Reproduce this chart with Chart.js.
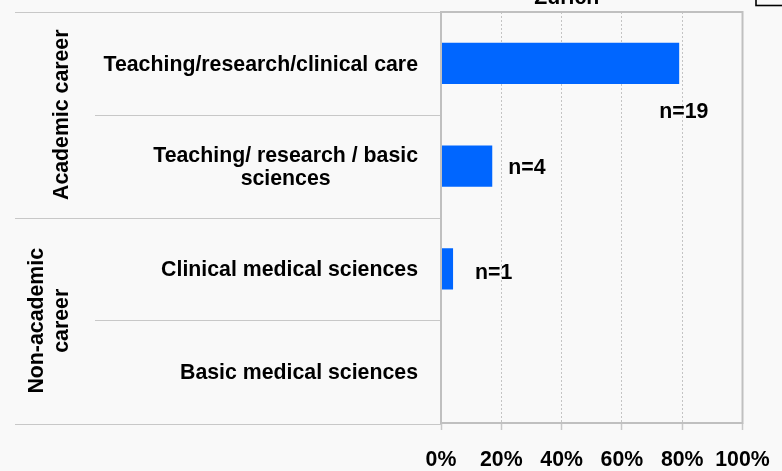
<!DOCTYPE html>
<html>
<head>
<meta charset="utf-8">
<script src="https://cdn.jsdelivr.net/npm/chart.js@4"></script>
<style>
  html, body { margin: 0; padding: 0; background: #f9f9f9; }
  #wrap { width: 782px; height: 471px; position: relative; }
</style>
</head>
<body>
<div id="wrap"><canvas id="myChart"></canvas></div>
<script>
// data
const categories = [
    ['Teaching/research/clinical care'],
    ['Teaching/ research / basic', 'sciences'],
    ['Clinical medical sciences'],
    ['Basic medical sciences']
];
const groups = [['Academic career'], ['Non-academic', 'career']];
const groupStarts = [0, 2];            // first category index of each group
const shares = [79, 17, 4, 0];         // percent of respondents
const counts = [19, 4, 1, 0];          // n per category
const xTicks = [0, 20, 40, 60, 80, 100];
const chartTitle = 'Zurich';

const FONT = '"Liberation Sans", Arial, Helvetica, sans-serif';
const BOLD = 'bold 21.3px ' + FONT;

// where each n= label sits relative to the end / middle of its bar
const labelOffsets = [
    { dx: -20, dy: 55 },
    { dx: 16, dy: 8 },
    { dx: 22, dy: 10 }
];

const decorations = {
    id: 'decorations',
    afterDatasetsDraw(chart) {
        const ctx = chart.ctx;
        const area = chart.chartArea;
        const y = chart.scales.y;
        const n = categories.length;

        // band edges of the category axis
        const edges = [area.top];
        for (let i = 0; i < n - 1; i++) {
            edges.push((y.getPixelForValue(i) + y.getPixelForValue(i + 1)) / 2);
        }
        edges.push(area.bottom + 1);

        ctx.save();

        // divider lines on the left side
        ctx.strokeStyle = '#c8c8c8';
        ctx.lineWidth = 1;
        edges.forEach((e, i) => {
            const full = i === 0 || i === n || groupStarts.includes(i);
            ctx.beginPath();
            ctx.moveTo(full ? 15 : 95, Math.round(e) + 0.5);
            ctx.lineTo(area.left, Math.round(e) + 0.5);
            ctx.stroke();
        });

        // plot frame
        ctx.strokeStyle = '#c0c0c0';
        ctx.lineWidth = 2;
        ctx.strokeRect(area.left, area.top, area.right - area.left, area.bottom - area.top);

        ctx.fillStyle = '#000';
        ctx.font = BOLD;

        // category labels: right-aligned block, lines centred inside it
        const right = area.left - 23;
        const lh = 23.5;
        categories.forEach((lines, i) => {
            const w = Math.max(...lines.map(l => ctx.measureText(l).width));
            const cx = right - w / 2;
            const cy = y.getPixelForValue(i);
            ctx.textAlign = 'center';
            ctx.textBaseline = 'alphabetic';
            lines.forEach((l, k) => {
                const base = cy + 7.5 + (k - (lines.length - 1) / 2) * lh;
                ctx.fillText(l, cx, base);
            });
        });

        // rotated group labels
        groups.forEach((lines, g) => {
            const first = groupStarts[g];
            const last = g + 1 < groupStarts.length ? groupStarts[g + 1] : n;
            const cy = (edges[first] + edges[last]) / 2;
            ctx.save();
            ctx.translate(0, cy);
            ctx.rotate(-Math.PI / 2);
            ctx.textAlign = 'center';
            ctx.textBaseline = 'alphabetic';
            lines.forEach((l, k) => {
                ctx.fillText(l, 0, 68 - (lines.length - 1 - k) * 25);
            });
            ctx.restore();
        });

        // n= labels next to the bars
        const meta = chart.getDatasetMeta(0);
        ctx.textAlign = 'left';
        ctx.textBaseline = 'middle';
        counts.forEach((c, i) => {
            if (!c) return;
            const bar = meta.data[i];
            const off = labelOffsets[i];
            ctx.fillText('n=' + c, bar.x + off.dx, bar.y + off.dy - 6);
        });

        // title, partly cut off at the top
        ctx.textAlign = 'center';
        ctx.textBaseline = 'alphabetic';
        ctx.fillText(chartTitle, area.left + (area.right - area.left) * 0.417, 4);

        // corner of a box peeking in at the top right
        ctx.strokeStyle = '#000';
        ctx.lineWidth = 1.6;
        ctx.strokeRect(756, -20, 60, 25.5);

        ctx.restore();
    }
};

new Chart(document.getElementById('myChart').getContext('2d'), {
    type: 'bar',
    data: {
        labels: categories,
        datasets: [
            {
                data: shares,
                backgroundColor: '#0066ff',
                borderWidth: 0,
                categoryPercentage: 1,
                barPercentage: 0.4
            }
        ]
    },
    options: {
        indexAxis: 'y',
        responsive: true,
        maintainAspectRatio: false,
        animation: false,
        layout: { padding: { top: 12, right: 39.5, left: 0, bottom: 0 } },
        plugins: {
            legend: { display: false },
            tooltip: { enabled: false },
            title: { display: false }
        },
        scales: {
            x: {
                min: 0,
                max: 100,
                afterBuildTicks: s => { s.ticks = xTicks.map(v => ({ value: v })); },
                afterFit: s => { s.height = 48; s.paddingLeft = 0; s.paddingRight = 0; },
                ticks: {
                    callback: v => v + '%',
                    color: '#000',
                    font: { family: FONT, size: 21.3, weight: 'bold' },
                    padding: 17,
                    maxRotation: 0
                },
                grid: {
                    color: '#c4c4c4',
                    lineWidth: 1,
                    tickLength: 7,
                    tickColor: '#c8c8c8',
                    tickWidth: 1.5,
                    tickBorderDash: []
                },
                border: { display: false, dash: [2, 2] }
            },
            y: {
                afterFit: s => { s.width = 441; },
                ticks: { display: false },
                grid: { display: false },
                border: { display: false }
            }
        }
    },
    plugins: [decorations]
});
</script>
</body>
</html>
